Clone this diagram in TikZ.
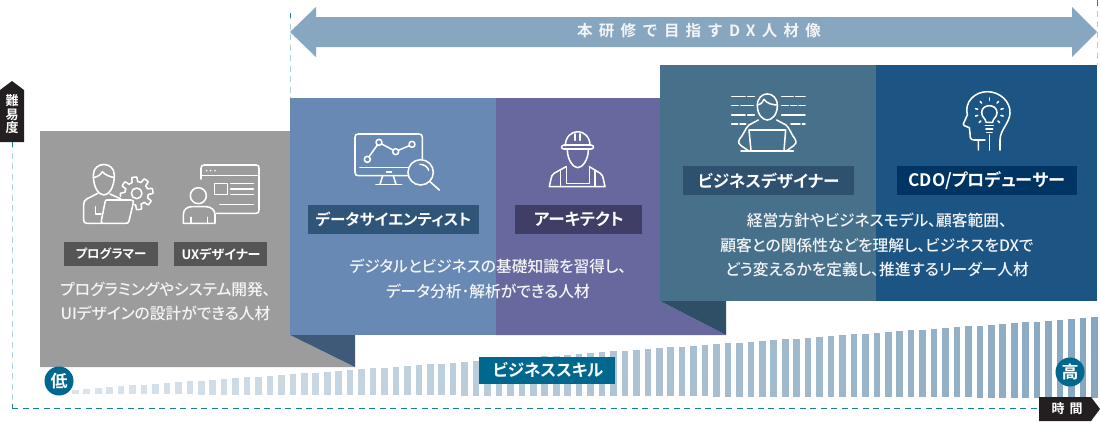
\documentclass[tikz,border=0pt]{standalone}
\usepackage{fontspec}
\newfontfamily\jpb[RawFeature=+palt]{Noto Sans CJK JP Bold}
\newfontfamily\jpm[RawFeature=+palt]{Noto Sans CJK JP Medium}
\newfontfamily\jpt[LetterSpace=40]{Noto Sans CJK JP Bold}
\definecolor{cblue}{HTML}{6789B3}
\definecolor{cpurple}{HTML}{67699E}
\definecolor{cteal}{HTML}{47718B}
\definecolor{cnavy}{HTML}{1C5583}
\definecolor{cgray}{HTML}{9C9C9C}
\definecolor{carrow}{HTML}{87A7C0}
\definecolor{cdash}{HTML}{1B7E9F}
\definecolor{cdashl}{HTML}{A9D2E2}
\definecolor{ccirc}{HTML}{00688F}
\definecolor{cblack}{HTML}{231F20}
\definecolor{ctext}{HTML}{F3F4F6}
\definecolor{cfolda}{HTML}{3F5A78}
\definecolor{cfoldb}{HTML}{2F4F66}
\definecolor{crolea}{HTML}{555555}
\definecolor{croleb}{HTML}{2F5579}
\definecolor{crolec}{HTML}{3E3E67}
\definecolor{croled}{HTML}{2E5170}
\definecolor{crolee}{HTML}{003462}
\tikzset{
  rolebox/.style={anchor=center,inner sep=0pt,text=white,font=\jpb},
  bodytext/.style={anchor=center,inner sep=0pt,text=ctext,align=center,font=\jpm\fontsize{15.75}{24.5}\selectfont},
  ic/.style={draw=white,line width=1.55pt,line cap=round,line join=round},
  dashdark/.style={draw=cdash,line width=1pt,dash pattern=on 6pt off 4.5pt},
  dashlight/.style={draw=cdashl,line width=1pt,dash pattern=on 6pt off 4.5pt},
  zoomed/.style={x=0.33333pt,y=-0.33333pt},
}
\begin{document}
\begin{tikzpicture}[x=1pt,y=-1pt]
\useasboundingbox (0,0) rectangle (1100,421);
\fill[white] (0,0) rectangle (1100,421);
% named anchors of the dashed guides
\coordinate (axisTop) at (12,142);
\coordinate (axisCorner) at (12,408);
\coordinate (axisEnd) at (1040,408);
\coordinate (guideLTop) at (290,13);
\coordinate (guideLBot) at (290,98);
\coordinate (guideRTop) at (1097,0);
\coordinate (guideRBot) at (1097,65);
\draw[dashlight] (axisTop) -- (axisCorner);
\draw[dashdark] (axisCorner) -- (axisEnd);
\draw[dashlight] (guideLTop) -- (guideLBot);
\draw[dashlight] (guideRTop) -- (guideRBot);
\draw[dashdark] (axisTop) -- +(0,5);
\draw[dashdark] (axisCorner) -- +(0,-4);
\draw[dashdark] (guideLTop) -- +(0,5);
\draw[dashdark] (guideRTop) -- +(0,6);
% bars
\foreach \i in {0,...,89}{
  \pgfmathsetmacro{\xl}{72+\i*11.45}
  \pgfmathsetmacro{\ytop}{389.5-0.0707*(\xl-72)}
  \pgfmathsetmacro{\ybot}{394+0.0039*(\xl-72)}
  \pgfmathsetmacro{\mixv}{30+70*\i/89}
  \fill[carrow!\mixv!white] (\xl,\ytop) rectangle (\xl+6.6,\ybot);
}
% panels
\fill[cgray] (40,131) -- (290,131) -- (290,335) -- (355,367) -- (40,367) -- cycle;
\fill[cpurple] (496,98) -- (660,98) -- (660,301) -- (726,335) -- (496,335) -- cycle;
\fill[cblue] (290,98) rectangle (496,335);
\fill[cfolda] (290,335) -- (355,335) -- (355,367) -- cycle;
\fill[cfoldb] (660,301) -- (726,301) -- (726,335) -- cycle;
\fill[cteal] (660,65) rectangle (876,301);
\fill[cnavy] (876,65) rectangle (1097,301);
% top arrow
\fill[carrow] (290,32) -- (316,7) -- (316,17) -- (1072,17) -- (1072,7) -- (1097,32) -- (1072,57) -- (1072,47) -- (316,47) -- (316,57) -- cycle;
\node[anchor=center,inner sep=0pt,text=ctext,font=\jpt\fontsize{15.5}{15.5}\selectfont] (title) at (699,31) {本研修で目指すDX人材像};
% role boxes
\fill[crolea] (64,242) rectangle (158,266);
\fill[crolea] (174,242) rectangle (267,266);
\fill[croleb] (308,205) rectangle (479,234);
\fill[crolec] (515,205) rectangle (642,234);
\fill[croled] (683,166) rectangle (854,195);
\fill[crolee] (897,166) rectangle (1077,195);
\node[rolebox,font=\jpb\fontsize{12.4}{12}\selectfont] (r1) at (111,254) {プログラマー};
\node[rolebox,font=\jpb\fontsize{13}{12}\selectfont] (r2) at (221,254) {UXデザイナー};
\node[rolebox,font=\jpb\fontsize{15.6}{15}\selectfont] (r3) at (393.5,219.5) {データサイエンティスト};
\node[rolebox,font=\jpb\fontsize{16.6}{15}\selectfont] (r4) at (579,219.5) {アーキテクト};
\node[rolebox,font=\jpb\fontsize{16.6}{15}\selectfont] (r5) at (768.5,180.5) {ビジネスデザイナー};
\node[rolebox,font=\jpb\fontsize{17.2}{15}\selectfont] (r6) at (987,180.5) {CDO/プロデューサー};
% body text
\node[bodytext] (b1) at (165.5,301.5) {プログラミングやシステム開発、\\UIデザインの設計ができる人材};
\node[bodytext] (b2) at (488,279) {デジタルとビジネスの基礎知識を習得し、\\データ分析･解析ができる人材};
\node[bodytext] (b3) at (877,245) {経営方針やビジネスモデル、顧客範囲、\\顧客との関係性などを理解し、ビジネスをDXで\\どう変えるかを定義し、推進するリーダー人材};
% axis tags
\fill[cblack] (0,142) -- (0,90) -- (12,81) -- (24,90) -- (24,142) -- cycle;
\node[anchor=center,inner sep=0pt,text=white,align=center,font=\jpb\fontsize{13}{13.5}\selectfont] (yTag) at (12,114.5) {難\\易\\度};
\fill[cblack] (1039,397) -- (1091,397) -- (1100,409) -- (1091,421) -- (1039,421) -- cycle;
\node[anchor=center,inner sep=0pt,text=white,font=\jpb\fontsize{13}{13}\selectfont] (xTag) at (1067,409) {時\hspace{5pt}間};
% skill label
\fill[ccirc] (479,357) rectangle (615,384);
\node[anchor=center,inner sep=0pt,text=white,font=\jpb\fontsize{16.6}{15}\selectfont] (skill) at (548,370) {ビジネススキル};
% circles
\node[circle,fill=ccirc,minimum size=29pt,inner sep=0pt,text=white,font=\jpb\fontsize{17}{17}\selectfont] (low) at (59,381) {低};
\node[circle,fill=ccirc,minimum size=29pt,inner sep=0pt,text=white,font=\jpb\fontsize{17}{17}\selectfont] (high) at (1070,372) {高};
% icon: programmer
\begin{scope}[shift={(75,155)},zoomed]
\draw[ic] (55,60) .. controls (55,18) and (118,18) .. (118,60) .. controls (118,100) and (100,120) .. (87,120) .. controls (72,120) and (55,100) .. (55,60) -- cycle;
\draw[ic] (55,68) .. controls (70,65) and (78,58) .. (82,50) .. controls (90,60) and (105,65) .. (118,68);
\draw[ic] (68,115) -- (35,132) .. controls (28,136) and (26,142) .. (26,150) -- (26,195) .. controls (26,202) and (30,205) .. (36,205) -- (80,205);
\draw[ic] (105,117) -- (138,132);
\draw[ic] (62,155) -- (62,177) -- (78,177);
\draw[ic] (95,135) -- (168,135) .. controls (174,135) and (176,138) .. (175,143) -- (162,198) .. controls (160,204) and (158,205) .. (152,205) -- (85,205) .. controls (80,205) and (78,202) .. (79,197) -- (90,142) .. controls (91,137) and (92,135) .. (95,135) -- cycle;
\draw[ic] plot[domain=-100:190,samples=180] ({185+(42+7*max(-1,min(1,3*sin(8*\x+20))))*cos(\x)},{115-(42+7*max(-1,min(1,3*sin(8*\x+20))))*sin(\x)});
\draw[ic] (185,115) circle[radius=16];
\end{scope}
% icon: UX
\begin{scope}[shift={(175,155)},zoomed]
\draw[ic] (78,72) -- (78,40) .. controls (78,33) and (81,30) .. (88,30) -- (243,30) .. controls (250,30) and (252,33) .. (252,40) -- (252,165) .. controls (252,172) and (250,175) .. (243,175) -- (125,175);
\draw[ic] (78,62) -- (252,62);
\fill[white] (95,47) circle[radius=2.6];
\fill[white] (107,47) circle[radius=2.6];
\fill[white] (120,47) circle[radius=2.6];
\draw[ic] (118,85) rectangle (157,118);
\draw[ic] (167,85) -- (235,85);
\draw[ic] (167,102) -- (235,102);
\draw[ic] (167,118) -- (235,118);
\draw[ic] (135,148) -- (235,148);
\draw[ic] (70,122) circle[radius=24];
\draw[ic] (25,205) -- (25,178) .. controls (25,163) and (38,155) .. (50,155) -- (92,155) .. controls (108,155) and (120,165) .. (120,178) -- (120,205) -- cycle;
\draw[ic] (48,205) -- (48,187);
\draw[ic] (98,205) -- (98,187);
\end{scope}
% icon: data scientist
\begin{scope}[shift={(350,125)},zoomed]
\draw[ic] (217,102) -- (217,37) .. controls (217,30) and (214,27) .. (207,27) -- (25,27) .. controls (18,27) and (15,30) .. (15,37) -- (15,142) .. controls (15,149) and (18,152) .. (25,152) -- (175,152);
\draw[ic] (30,127) -- (175,127);
\draw[ic,line width=2pt] (110,141) -- (124,141);
\draw[ic] (98,152) -- (90,178);
\draw[ic] (130,152) -- (138,178);
\draw[ic] (78,178) -- (155,178);
\draw[ic] (52,103) circle[radius=9];
\draw[ic] (87,52) circle[radius=9];
\draw[ic] (137,80) circle[radius=9];
\draw[ic] (186,58) circle[radius=9];
\draw[ic] (57,95) -- (82,60);
\draw[ic] (95,57) -- (129,75);
\draw[ic] (145,76) -- (178,62);
\fill[cblue] (212,142) circle[radius=38];
\draw[ic] (212,142) circle[radius=38];
\draw[ic] (210,118) .. controls (222,118) and (233,125) .. (236,136);
\draw[ic] (240,170) -- (268,195);
\end{scope}
% icon: architect
\begin{scope}[shift={(540,125)},zoomed]
\draw[ic] (76,62) .. controls (76,35) and (95,20) .. (113,20) .. controls (132,20) and (150,35) .. (150,62);
\draw[ic] (72,60) -- (153,60) .. controls (163,62) and (163,72) .. (153,72) -- (72,72) .. controls (62,72) and (62,62) .. (72,60) -- cycle;
\draw[ic] (105,27) -- (105,46);
\draw[ic] (120,27) -- (120,46);
\draw[ic] (82,74) .. controls (82,105) and (100,128) .. (113,128) .. controls (127,128) and (145,105) .. (145,74);
\draw[ic] (78,125) -- (42,145) .. controls (36,150) and (34,155) .. (33,162) -- (28,185) -- (195,185) -- (190,162) .. controls (189,155) and (187,150) .. (181,145) -- (148,125);
\draw[ic] (62,185) -- (62,138);
\draw[ic] (165,185) -- (165,138);
\draw[ic] (80,125) -- (80,175) -- (148,175) -- (148,125);
\end{scope}
% icon: business designer
\begin{scope}[shift={(725,85)},zoomed]
\draw[ic] (97,62) .. controls (97,15) and (157,15) .. (157,62) .. controls (157,90) and (140,105) .. (127,105) .. controls (114,105) and (97,90) .. (97,62) -- cycle;
\draw[ic] (97,60) .. controls (108,58) and (115,50) .. (117,43) .. controls (125,55) and (142,60) .. (157,60);
\foreach \a/\b/\yy in {20/60/35,68/88/35,20/40/62,48/85/62,20/60/90,68/88/90,20/38/117,45/62/117,170/205/35,212/240/35,170/190/62,197/215/62,222/240/62,170/240/90,198/225/117,232/240/117}{
  \draw[ic] (\a,\yy) -- (\b,\yy);
}
\draw[ic] (100,105) -- (72,120) .. controls (62,128) and (55,150) .. (44,162) .. controls (38,172) and (42,178) .. (48,182) -- (70,197);
\draw[ic] (155,105) -- (183,120) .. controls (193,128) and (200,150) .. (210,162) .. controls (216,172) and (212,178) .. (206,182) -- (185,197);
\draw[ic] (78,197) -- (72,135) -- (182,135) -- (177,197);
\draw[ic] (48,198) -- (205,198);
\end{scope}
% icon: CDO
\begin{scope}[shift={(950,85)},zoomed]
\draw[ic] (85,195) -- (85,165) -- (72,165) .. controls (60,165) and (60,155) .. (60,145) -- (58,128) -- (43,122) .. controls (38,120) and (40,115) .. (42,112) -- (52,90) .. controls (42,50) and (75,20) .. (112,20) .. controls (150,20) and (182,50) .. (180,85) .. controls (178,115) and (150,135) .. (150,165) -- (150,195);
\draw[ic] (85,165) -- (105,165);
\draw[ic] (108,112) .. controls (108,100) and (95,98) .. (95,83) .. controls (95,55) and (141,55) .. (141,83) .. controls (141,98) and (128,100) .. (128,112) -- cycle;
\draw[ic] (106,122) -- (130,122);
\draw[ic] (108,132) -- (128,132);
\draw[ic] (110,142) -- (126,142);
\draw[ic] (118,150) -- (118,195);
\foreach \ang in {90,50,130,15,165,-15,195,-45,225}{
  \draw[ic] ({118+36*cos(\ang)},{82-36*sin(\ang)}) -- ({118+43*cos(\ang)},{82-43*sin(\ang)});
}
\end{scope}
\end{tikzpicture}
\end{document}
